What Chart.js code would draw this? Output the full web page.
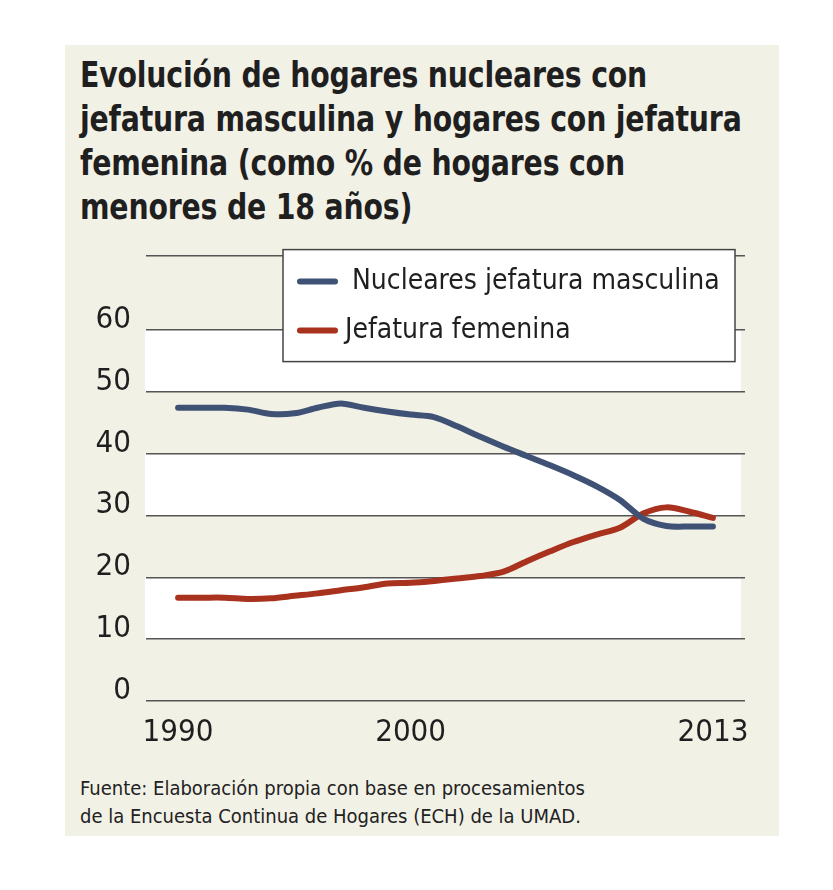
<!DOCTYPE html>
<html>
<head>
<meta charset="utf-8">
<script src="https://cdn.jsdelivr.net/npm/chart.js@4.4.1/dist/chart.umd.min.js"></script>
<style>
  html, body { margin: 0; padding: 0; background: #ffffff; width: 833px; height: 890px; overflow: hidden; }
  #panel { position: absolute; left: 65px; top: 45px; width: 714px; height: 791px; background: #F2F1E6; }
  #title { position: absolute; left: 80px; top: 53px; white-space: nowrap; font-family: 'DejaVu Sans Condensed', 'Liberation Sans Narrow', Roboto, sans-serif; font-weight: bold; font-size: 35px; line-height: 44px; color: #1f1f1f; letter-spacing: -0.2px; transform: scaleX(0.9); transform-origin: 0 0; }
  #source { position: absolute; left: 80px; top: 774px; white-space: nowrap; font-family: 'DejaVu Sans Condensed', 'Liberation Sans Narrow', Roboto, sans-serif; font-size: 20px; line-height: 28px; color: #222; }
  #wrap { position: absolute; left: 65px; top: 222px; width: 714px; height: 538px; }
</style>
</head>
<body>
<div id="panel"></div>
<div id="title">Evolución de hogares nucleares con<br>jefatura masculina y hogares con jefatura<br>femenina (como % de hogares con<br>menores de 18 años)</div>
<div id="wrap"><canvas id="c" width="714" height="538"></canvas></div>
<div id="source">Fuente: Elaboración propia con base en procesamientos<br>de la Encuesta Continua de Hogares (ECH) de la UMAD.</div>
<script>
const years = [1990,1991,1992,1993,1994,1995,1996,1997,1998,1999,2000,2001,2002,2003,2004,2005,2006,2007,2008,2009,2010,2011,2012,2013];
const masculina = [47.4,47.4,47.4,47.1,46.4,46.5,47.4,48.1,47.4,46.8,46.3,45.9,44.4,42.7,41.1,39.6,38.1,36.5,34.7,32.5,29.5,28.3,28.2,28.2];
const femenina = [16.7,16.7,16.7,16.5,16.6,17.0,17.4,17.9,18.4,19.0,19.1,19.4,19.8,20.2,20.9,22.6,24.2,25.7,26.9,28.0,30.3,31.3,30.6,29.6];
const seriesLabels = ['Nucleares jefatura masculina', 'Jefatura femenina'];
const xTickYears = [1990, 2000, 2013];
const yTickValues = [0, 10, 20, 30, 40, 50, 60];
const yTop = 72;

const FONT = "'DejaVu Sans Condensed', 'Liberation Sans Narrow', Roboto, sans-serif";
const BLUE = '#3F5276';
const RED = '#A8321E';

const bandsPlugin = {
  id: 'bands',
  beforeDraw(chart) {
    const ctx = chart.ctx, y = chart.scales.y, a = chart.chartArea;
    ctx.save();
    ctx.fillStyle = '#ffffff';
    for (let i = 0; i < yTickValues.length - 1; i++) {
      if (i % 2 === 1) {
        const y0 = y.getPixelForValue(yTickValues[i]);
        const y1 = y.getPixelForValue(yTickValues[i + 1]);
        ctx.fillRect(a.left - 1, y1, a.right - a.left - 3, y0 - y1);
      }
    }
    ctx.restore();
  }
};

const legendPlugin = {
  id: 'boxLegend',
  afterDraw(chart) {
    const ctx = chart.ctx, a = chart.chartArea;
    const bx = a.left + 137, by = a.top - 6, bw = 452, bh = 112;
    ctx.save();
    ctx.fillStyle = '#ffffff';
    ctx.fillRect(bx, by, bw, bh);
    ctx.strokeStyle = '#444';
    ctx.lineWidth = 1.5;
    ctx.strokeRect(bx, by, bw, bh);
    ctx.font = '28px ' + FONT;
    ctx.textBaseline = 'middle';
    chart.data.datasets.forEach((ds, i) => {
      const cy = by + 32 + i * 49;
      ctx.strokeStyle = ds.borderColor;
      ctx.lineWidth = 6;
      ctx.lineCap = 'round';
      ctx.beginPath();
      ctx.moveTo(bx + 17, cy);
      ctx.lineTo(bx + 52, cy);
      ctx.stroke();
      ctx.fillStyle = '#1f1f1f';
      ctx.fillText(ds.label, bx + (i === 0 ? 69 : 62), cy);
    });
    ctx.restore();
  }
};

new Chart(document.getElementById('c'), {
  type: 'line',
  data: {
    datasets: [
      { label: seriesLabels[0], data: years.map((x, i) => ({ x, y: masculina[i] })), borderColor: BLUE, borderWidth: 6, pointRadius: 0, tension: 0.3, borderCapStyle: 'round', borderJoinStyle: 'round' },
      { label: seriesLabels[1], data: years.map((x, i) => ({ x, y: femenina[i] })), borderColor: RED, borderWidth: 6, pointRadius: 0, tension: 0.3, borderCapStyle: 'round', borderJoinStyle: 'round' }
    ]
  },
  options: {
    responsive: false,
    animation: false,
    devicePixelRatio: 1,
    layout: { padding: { top: 18, right: 34, left: 0, bottom: 0 } },
    plugins: { legend: { display: false }, tooltip: { enabled: false }, title: { display: false } },
    scales: {
      x: {
        type: 'linear',
        min: 1988.62,
        max: 2014.38,
        afterBuildTicks(scale) { scale.ticks = xTickYears.map(v => ({ value: v })); },
        afterFit(scale) { scale.height = 59; },
        grid: { display: false, drawTicks: false },
        border: { display: false },
        ticks: { padding: 13, color: '#1f1f1f', font: { family: FONT, size: 31 }, callback: v => String(v), maxRotation: 0, autoSkip: false }
      },
      y: {
        type: 'linear',
        min: 0,
        max: yTop,
        afterBuildTicks(scale) { scale.ticks = yTickValues.concat([yTop]).map(v => ({ value: v })); },
        afterFit(scale) { scale.width = 81; },
        grid: { color: '#555', lineWidth: 1.5, drawTicks: false },
        border: { display: false },
        ticks: { padding: 15, labelOffset: -10, color: '#1f1f1f', font: { family: FONT, size: 31 }, callback: v => (yTickValues.includes(v) ? String(v) : '') }
      }
    }
  },
  plugins: [bandsPlugin, legendPlugin]
});
</script>
</body>
</html>
